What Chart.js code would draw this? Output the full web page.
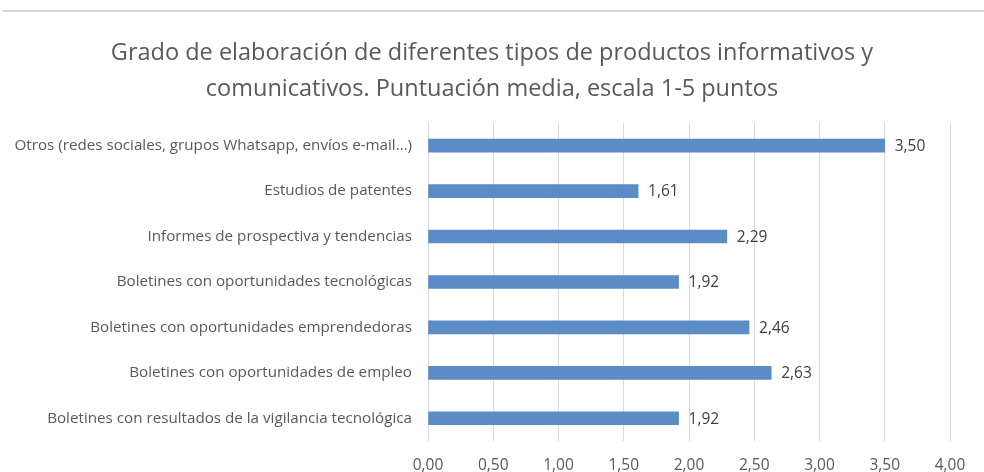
<!DOCTYPE html>
<html>
<head>
<meta charset="utf-8">
<script src="https://cdn.jsdelivr.net/npm/chart.js@4"></script>
<style>
  html, body { margin: 0; padding: 0; background: #fff; }
  #wrap { position: relative; width: 984px; height: 472px; overflow: hidden; }
  #topline { position: absolute; left: 2px; right: 0; top: 10px; height: 2px; background: #d9d9d9; }
  canvas { position: absolute; left: 0; top: 0; }
</style>
</head>
<body>
<div id="wrap">
  <canvas id="c" width="984" height="472"></canvas>
  <div id="topline"></div>
</div>
<script>
const categories = [
  'Otros (redes sociales, grupos Whatsapp, envíos e-mail…)',
  'Estudios de patentes',
  'Informes de prospectiva y tendencias',
  'Boletines con oportunidades tecnológicas',
  'Boletines con oportunidades emprendedoras',
  'Boletines con oportunidades de empleo',
  'Boletines con resultados de la vigilancia tecnológica'
];
const values = [3.50, 1.61, 2.29, 1.92, 2.46, 2.63, 1.92];
const titleLines = [
  'Grado de elaboración de diferentes tipos de productos informativos y',
  'comunicativos. Puntuación media, escala 1-5 puntos'
];
const xMin = 0, xMax = 4, xStep = 0.5;

const fmt = v => Number(v).toFixed(2).replace('.', ',');
const FONT = "'Open Sans', sans-serif";

const dataLabels = {
  id: 'dataLabels',
  afterDatasetsDraw(chart) {
    const ctx = chart.ctx;
    const meta = chart.getDatasetMeta(0);
    ctx.save();
    ctx.font = "15.5px " + FONT;
    ctx.fillStyle = '#404040';
    ctx.textAlign = 'left';
    ctx.textBaseline = 'middle';
    meta.data.forEach((bar, i) => {
      ctx.fillText(fmt(values[i]), bar.x + 10, bar.y + 1);
    });
    ctx.restore();
  }
};

new Chart(document.getElementById('c'), {
  type: 'bar',
  data: {
    labels: categories,
    datasets: [{
      data: values,
      backgroundColor: '#5B8CC6',
      borderWidth: 0,
      barThickness: 13
    }]
  },
  options: {
    indexAxis: 'y',
    responsive: false,
    animation: false,
    layout: { padding: { left: 34, right: 34, top: 0, bottom: 0 } },
    plugins: {
      legend: { display: false },
      tooltip: { enabled: false },
      title: {
        display: true,
        text: titleLines,
        color: '#595959',
        font: { family: FONT, size: 23.5, weight: 'normal', lineHeight: 1.53 },
        padding: { top: 35, bottom: 16 }
      }
    },
    scales: {
      x: {
        min: xMin, max: xMax,
        ticks: {
          stepSize: xStep,
          color: '#595959',
          font: { family: FONT, size: 15.5 },
          padding: 15,
          callback: v => fmt(v)
        },
        grid: { color: '#d9d9d9', lineWidth: 1, drawTicks: false },
        border: { display: false },
        afterFit(scale) { scale.height = 31; }
      },
      y: {
        ticks: {
          color: '#595959',
          font: { family: FONT, size: 15.2 },
          padding: 16,
          autoSkip: false
        },
        grid: { display: false, drawTicks: false },
        border: { display: false },
        afterFit(scale) {
          scale.width = 394;
          scale._computeLabelArea = () => undefined;
        }
      }
    }
  },
  plugins: [dataLabels]
});
</script>
</body>
</html>
